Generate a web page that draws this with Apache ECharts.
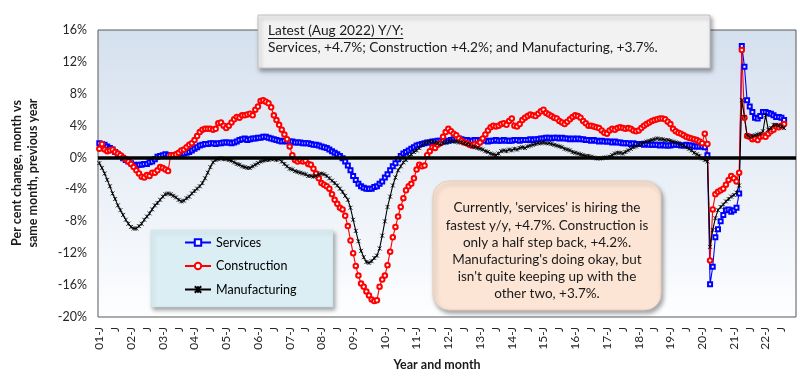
<!DOCTYPE html>
<html><head><meta charset="utf-8">
<script src="https://cdn.jsdelivr.net/npm/echarts@6/dist/echarts.min.js"></script>
<style>html,body{margin:0;padding:0;background:#fff}#c{width:800px;height:378px}</style>
</head><body><div id="c"></div>
<script>
// ---------- DATA ----------
const years = ['01','02','03','04','05','06','07','08','09','10','11','12','13','14','15','16','17','18','19','20','21','22'];
const months = ['01','02','03','04','05','06','07','08','09','10','11','12'];
const yTicks = { min: -20, max: 16, interval: 4 };

const services = [
 1.8, 1.7, 1.6, 1.4, 1.2, 1.0, 0.7, 0.4, 0.2, -0.1, -0.3, -0.5,
 -0.7, -0.9, -1.0, -0.9, -0.9, -0.8, -0.8, -0.6, -0.5, -0.2, 0.1, 0.2,
 0.3, 0.4, 0.3, 0.3, 0.2, 0.3, 0.4, 0.5, 0.5, 0.6, 0.7, 0.9,
 1.1, 1.3, 1.5, 1.6, 1.7, 1.7, 1.8, 1.8, 1.7, 1.8, 1.8, 1.9,
 1.9, 1.9, 1.8, 1.9, 2.0, 2.2, 2.3, 2.4, 2.2, 2.3, 2.4, 2.4,
 2.5, 2.5, 2.6, 2.6, 2.5, 2.4, 2.3, 2.2, 2.1, 2.0, 2.1, 2.0,
 2.0, 2.0, 1.9, 1.9, 1.9, 1.8, 1.8, 1.8, 1.7, 1.6, 1.6, 1.5,
 1.4, 1.3, 1.2, 1.0, 0.8, 0.6, 0.4, 0.2, -0.1, -0.5, -1.0, -1.6,
 -2.3, -2.8, -3.3, -3.6, -3.8, -3.9, -3.9, -3.9, -3.7, -3.6, -3.3, -3.0,
 -2.5, -2.1, -1.6, -1.1, -0.7, -0.2, 0.2, 0.5, 0.7, 0.9, 1.1, 1.3,
 1.5, 1.6, 1.7, 1.8, 1.9, 1.9, 2.0, 2.0, 2.1, 2.1, 2.1, 2.0,
 2.1, 2.2, 2.3, 2.4, 2.4, 2.3, 2.2, 2.2, 2.1, 2.1, 2.2, 2.2,
 2.1, 2.2, 2.1, 2.0, 2.1, 2.1, 2.2, 2.1, 2.1, 2.2, 2.1, 2.1,
 2.1, 2.2, 2.2, 2.1, 2.2, 2.2, 2.2, 2.3, 2.2, 2.3, 2.3, 2.4,
 2.4, 2.5, 2.5, 2.4, 2.5, 2.5, 2.4, 2.5, 2.4, 2.4, 2.3, 2.4,
 2.3, 2.4, 2.3, 2.3, 2.2, 2.2, 2.1, 2.2, 2.1, 2.0, 2.1, 2.0,
 2.0, 2.0, 1.9, 2.0, 1.9, 1.9, 1.8, 1.8, 1.8, 1.7, 1.8, 1.7,
 1.7, 1.7, 1.6, 1.7, 1.6, 1.6, 1.6, 1.6, 1.5, 1.6, 1.5, 1.5,
 1.5, 1.6, 1.6, 1.6, 1.5, 1.5, 1.6, 1.5, 1.5, 1.4, 1.4, 1.4,
 1.4, 1.3, 0.3, -15.9, -13.7, -10.0, -9.0, -8.0, -7.2, -6.6, -6.5, -6.8,
 -6.6, -6.3, -4.5, 14.0, 11.4, 7.2, 6.4, 5.7, 5.0, 4.9, 5.2, 5.7,
 5.7, 5.6, 5.5, 5.3, 5.1, 5.1, 5.0, 4.7
];

const construction = [
 1.1, 1.7, 1.0, 0.8, 0.9, 1.0, 0.7, 0.5, 0.3, 0.0, -0.2, -0.5,
 -0.8, -1.2, -1.6, -2.0, -2.4, -2.5, -2.2, -2.3, -1.9, -1.9, -1.6, -1.2,
 -1.3, -1.5, -1.7, 0.3, 0.3, 0.4, 0.6, 0.9, 1.0, 1.3, 1.6, 1.8,
 2.2, 2.7, 3.2, 3.5, 3.6, 3.6, 3.6, 3.5, 3.6, 4.3, 4.4, 4.0,
 3.7, 4.0, 4.4, 4.8, 5.1, 5.0, 5.3, 5.3, 5.4, 5.5, 5.3, 6.0,
 6.4, 7.1, 7.2, 7.0, 6.8, 6.3, 5.3, 4.7, 4.1, 3.5, 2.9, 2.3,
 1.4, 0.3, -0.3, -0.5, -0.3, -0.5, -0.4, -0.8, -0.9, -1.4, -2.0, -2.6,
 -3.2, -3.4, -3.6, -3.9, -4.6, -5.3, -5.8, -6.3, -6.5, -7.3, -8.6, -10.4,
 -12.0, -13.6, -14.8, -15.8, -16.2, -16.8, -17.3, -17.8, -18.0, -17.9, -16.2, -15.3,
 -14.8, -13.5, -11.8, -10.0, -8.7, -7.4, -6.2, -5.1, -4.1, -3.6, -3.3, -2.6,
 -1.5, -0.9, -1.1, -1.0, 0.3, 0.8, 1.3, 1.2, 1.6, 1.8, 2.6, 3.2,
 3.6, 3.3, 3.0, 2.8, 2.4, 2.1, 1.9, 1.8, 1.6, 1.5, 1.7, 1.6,
 1.9, 2.4, 2.9, 3.4, 3.8, 4.0, 3.9, 4.0, 4.2, 4.3, 4.1, 4.6,
 4.9, 4.0, 3.9, 4.2, 4.7, 5.0, 5.2, 5.4, 5.3, 5.2, 5.5, 5.8,
 6.0, 5.6, 5.4, 5.2, 5.0, 4.9, 4.6, 4.4, 4.2, 4.5, 4.8, 5.1,
 5.3, 5.2, 5.0, 4.6, 4.3, 4.0, 4.0, 3.9, 3.8, 3.7, 3.4, 3.1,
 3.0, 3.4, 3.6, 3.5, 3.7, 3.8, 3.7, 3.6, 3.7, 3.6, 3.4, 3.3,
 3.4, 3.7, 4.0, 4.2, 4.4, 4.6, 4.7, 4.8, 4.9, 4.9, 4.8, 4.5,
 4.2, 3.6, 3.3, 3.1, 3.0, 2.8, 2.6, 2.5, 2.4, 2.3, 2.2, 2.0,
 1.8, 3.0, 1.7, -12.9, -6.5, -4.6, -4.3, -4.1, -3.9, -3.4, -2.8, -2.3,
 -2.6, -3.0, -1.9, 13.5, 5.0, 2.7, 2.6, 2.3, 2.4, 2.2, 2.6, 2.7,
 2.6, 3.0, 3.3, 3.5, 3.9, 3.8, 4.0, 4.2
];

const manufacturing = [
 -0.7, -1.3, -2.0, -2.8, -3.6, -4.5, -5.2, -6.0, -6.6, -7.2, -7.8, -8.3,
 -8.7, -8.9, -8.9, -8.6, -8.3, -7.8, -7.4, -7.0, -6.5, -6.0, -5.7, -5.3,
 -4.9, -4.6, -4.5, -4.6, -4.8, -5.0, -5.3, -5.5, -5.4, -5.1, -4.9, -4.5,
 -4.2, -3.9, -3.6, -3.2, -2.6, -1.9, -1.2, -0.6, -0.3, -0.2, -0.1, -0.2,
 -0.2, -0.3, -0.4, -0.6, -0.8, -0.9, -1.1, -1.2, -1.3, -1.3, -1.1, -0.9,
 -0.7, -0.5, -0.4, -0.3, -0.3, -0.2, -0.2, -0.3, -0.2, -0.5, -0.8, -1.1,
 -1.4, -1.5, -1.7, -1.8, -1.9, -2.0, -2.1, -2.3, -2.3, -2.4, -2.3, -2.1,
 -2.0, -2.1, -2.3, -2.6, -2.9, -3.2, -3.5, -3.9, -4.3, -4.8, -5.3, -6.3,
 -7.8, -9.2, -10.5, -11.7, -12.5, -13.1, -13.2, -13.0, -12.6, -12.3, -11.4, -9.8,
 -8.0, -6.2, -4.9, -3.5, -2.5, -1.6, -1.1, -0.6, -0.3, 0.1, 0.4, 0.7,
 0.9, 1.2, 1.6, 1.8, 1.9, 2.0, 2.0, 1.9, 1.8, 1.7, 1.8, 1.9,
 2.0, 2.1, 2.0, 2.0, 1.9, 1.9, 1.8, 1.7, 1.6, 1.4, 1.3, 1.2,
 1.1, 1.0, 0.8, 0.7, 0.5, 0.4, 0.3, 0.5, 0.8, 0.9, 0.8, 1.0,
 0.9, 1.1, 1.0, 1.2, 1.3, 1.2, 1.4, 1.5, 1.6, 1.7, 1.8, 1.8,
 1.9, 1.8, 1.8, 1.7, 1.6, 1.5, 1.4, 1.3, 1.1, 1.0, 0.9, 0.7,
 0.6, 0.5, 0.4, 0.3, 0.2, 0.2, 0.1, 0.0, -0.1, -0.1, -0.1, 0.0,
 0.0, 0.1, 0.3, 0.5, 0.6, 0.6, 0.5, 0.7, 0.9, 1.1, 1.3, 1.4,
 1.6, 1.7, 1.9, 2.0, 2.1, 2.2, 2.3, 2.4, 2.3, 2.3, 2.2, 2.2,
 2.1, 2.0, 1.9, 1.8, 1.6, 1.5, 1.3, 1.1, 0.9, 0.6, 0.4, 0.2,
 -0.1, -0.3, -0.5, -11.2, -9.1, -7.6, -6.6, -6.2, -5.9, -5.5, -5.2, -4.9,
 -4.7, -4.4, -3.5, 7.2, 5.1, 2.8, 2.6, 2.7, 2.8, 2.9, 3.0, 3.3,
 5.3, 3.5, 3.7, 4.1, 4.1, 4.0, 3.9, 3.7
];

const seriesNames = ['Services', 'Construction', 'Manufacturing'];
const topNoteTitle = 'Latest (Aug 2022) Y/Y:';
const topNoteText = 'Services, +4.7%; Construction +4.2%; and Manufacturing, +3.7%.';
const midNote = "Currently, 'services' is hiring the\nfastest y/y, +4.7%. Construction is\nonly a half step back, +4.2%.\nManufacturing's doing okay, but\nisn't quite keeping up with the\nother two, +3.7%.";

// ---------- BUILD ----------
const categories = [];
years.forEach(y => months.forEach(m => categories.push(y + '-' + m)));

const FONT = 'Lato';
const chart = echarts.init(document.getElementById('c'), null, { renderer: 'canvas' });

const ctx = document.createElement('canvas').getContext('2d');
ctx.font = '13.7px ' + FONT;
const titleW = ctx.measureText(topNoteTitle).width;

const shadow = { shadowBlur: 4, shadowOffsetX: 2, shadowOffsetY: 3, shadowColor: 'rgba(0,0,0,0.35)' };

const option = {
  animation: false,
  textStyle: { fontFamily: FONT },
  grid: {
    left: 98, right: 4, top: 30, bottom: 61, show: true,
    borderColor: '#595959', borderWidth: 1,
    backgroundColor: new echarts.graphic.LinearGradient(0, 0, 0, 1, [
      { offset: 0, color: '#d5e0ee' }, { offset: 1, color: '#fdfeff' }
    ])
  },
  xAxis: {
    type: 'category', data: categories, boundaryGap: true,
    axisLine: { show: false }, axisTick: { show: false }, splitLine: { show: false },
    axisLabel: {
      interval: 5, rotate: 90, margin: 10, fontSize: 12, color: '#262626', fontFamily: FONT,
      formatter: (v, i) => (i % 12 === 0 ? v.slice(0, 2) + '-J' : 'J')
    }
  },
  yAxis: {
    type: 'value', min: yTicks.min, max: yTicks.max, interval: yTicks.interval,
    axisLine: { show: false }, axisTick: { show: false }, splitLine: { show: false },
    axisLabel: { formatter: '{value}%', fontSize: 12.5, color: '#262626', margin: 11, fontFamily: FONT }
  },
  legend: {
    data: seriesNames, orient: 'vertical', left: 184, top: 236, padding: 0,
    itemGap: 10.5, itemWidth: 26, itemHeight: 8, selectedMode: false, z: 120,
    textStyle: { fontSize: 12.5, color: '#000', fontFamily: FONT }
  },
  series: [
    {
      name: seriesNames[0], type: 'line', data: services, showAllSymbol: true,
      symbol: 'emptyRect', symbolSize: 4,
      lineStyle: { color: '#0000ff', width: 1.1 },
      itemStyle: { color: '#0000ff', borderColor: '#0000ff', borderWidth: 1 },
      markLine: {
        silent: true, symbol: 'none', label: { show: false },
        lineStyle: { color: '#000', width: 3.5, type: 'solid' },
        data: [{ yAxis: 0 }]
      }
    },
    {
      name: seriesNames[1], type: 'line', data: construction, showAllSymbol: true,
      symbol: 'emptyCircle', symbolSize: 4.5,
      lineStyle: { color: '#ff0000', width: 1.1 },
      itemStyle: { color: '#ff0000', borderColor: '#ff0000', borderWidth: 1 }
    },
    {
      name: seriesNames[2], type: 'line', data: manufacturing, showAllSymbol: true,
      symbol: 'path://M0,0L8,8M8,0L0,8M4,0L4,8', symbolSize: 4,
      lineStyle: { color: '#000', width: 1.1 },
      itemStyle: { color: '#000', borderColor: '#000', borderWidth: 0.8 }
    }
  ],
  graphic: [
    { type: 'rect', z: 100, shape: { x: 151, y: 230, width: 182, height: 77 },
      style: Object.assign({ fill: '#daeef3', stroke: '#c9dde3', lineWidth: 0.5 }, shadow) },
    { type: 'rect', z: 100, shape: { x: 258, y: 15, width: 452, height: 53 },
      style: Object.assign({ fill: '#f2f2f2', stroke: '#c0c0c0', lineWidth: 1 }, shadow) },
    { type: 'text', z: 101, x: 268, y: 31,
      style: { text: topNoteTitle, fontSize: 13.7, fontFamily: FONT, fill: '#1a1a1a', textVerticalAlign: 'middle' } },
    { type: 'line', z: 101, shape: { x1: 268, y1: 38.5, x2: 268 + titleW, y2: 38.5 },
      style: { stroke: '#1a1a1a', lineWidth: 1 } },
    { type: 'text', z: 101, x: 268, y: 48,
      style: { text: topNoteText, fontSize: 13.7, fontFamily: FONT, fill: '#1a1a1a', textVerticalAlign: 'middle' } },
    { type: 'rect', z: 100, shape: { x: 433, y: 181, width: 228, height: 129, r: 16 },
      style: Object.assign({ fill: '#fce5d5', stroke: '#e9cdb9', lineWidth: 1 }, shadow) },
    { type: 'text', z: 101, x: 547, y: 251,
      style: { text: midNote, fontSize: 13.5, lineHeight: 17.2, fontFamily: FONT, fill: '#1a1a1a',
               textAlign: 'center', textVerticalAlign: 'middle' } },
    { type: 'text', z: 101, x: 25, y: 173, rotation: Math.PI / 2,
      style: { text: 'Per cent change, month vs\nsame month, previous year', fontSize: 12.5, fontWeight: 'bold',
               lineHeight: 16, fontFamily: FONT, fill: '#1a1a1a', textAlign: 'center', textVerticalAlign: 'middle' } },
    { type: 'text', z: 101, x: 437, y: 365,
      style: { text: 'Year and month', fontSize: 12.5, fontWeight: 'bold', fontFamily: FONT, fill: '#1a1a1a',
               textAlign: 'center', textVerticalAlign: 'middle' } }
  ]
};
chart.setOption(option);
</script>
</body></html>
